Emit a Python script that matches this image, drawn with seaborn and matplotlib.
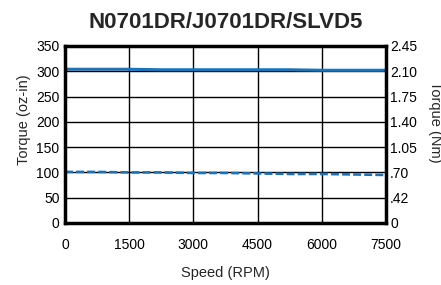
import matplotlib
matplotlib.use("Agg")
import matplotlib.pyplot as plt
import seaborn as sns
import pandas as pd

speed = [0, 750, 1500, 2250, 3000, 3750, 4500, 5250, 6000, 6750, 7500]
peak_torque = [304, 304, 304, 303, 303, 303, 303, 303, 302, 302, 302]
cont_torque = [101, 101, 100, 100, 99, 99, 98, 97, 97, 96, 95]
x_ticks = [0, 1500, 3000, 4500, 6000, 7500]
y_ticks = [0, 50, 100, 150, 200, 250, 300, 350]
right_labels = ["0", ".42", ".70", "1.05", "1.40", "1.75", "2.10", "2.45"]

sns.set_style("white")
plt.rcParams['font.family'] = ['Liberation Sans', 'DejaVu Sans']

df = pd.DataFrame({"speed": speed, "peak": peak_torque, "cont": cont_torque})

W, H = 441, 285
fig = plt.figure(figsize=(4.41, 2.85), dpi=100)
ax = fig.add_axes([65 / W, 1 - 223 / H, (386 - 65) / W, (223 - 46) / H])
color = "#1a72b8"
sns.lineplot(data=df, x="speed", y="peak", ax=ax, color=color, linewidth=2.2)
sns.lineplot(data=df, x="speed", y="cont", ax=ax, color=color, linewidth=1.9,
             linestyle=(0, (3, 1.2)))

ax.set_xlim(0, 7500)
ax.set_ylim(0, 350)
ax.set_xticks(x_ticks)
ax.set_yticks(y_ticks)
ax.grid(True, color="black", linewidth=1.0)
ax.set_axisbelow(True)
for s in ax.spines.values():
    s.set_linewidth(2.5)
    s.set_color("black")
    s.set_visible(True)
ax.tick_params(axis="x", labelsize=10, length=0, pad=11, colors="black")
ax.tick_params(axis="y", labelsize=10, length=0, pad=4, colors="black")
ax.set_xlabel("Speed (RPM)", fontsize=10.5, labelpad=10)
ax.set_ylabel("")
ax.set_title("N0701DR/J0701DR/SLVD5", fontsize=16, fontweight="bold", pad=13)

ax2 = ax.twinx()
ax2.set_ylim(0, 350)
ax2.set_yticks(y_ticks)
ax2.set_yticklabels(right_labels)
ax2.tick_params(axis="y", labelsize=10, length=0, pad=3, colors="black")
for s in ax2.spines.values():
    s.set_visible(False)

fig.text(24 / W, 1 - 120 / H, "Torque (oz-in)", rotation=90, ha="center",
         va="center", fontsize=10.5)
fig.text(435 / W, 1 - 122 / H, "Torque (Nm)", rotation=-90, ha="center",
         va="center", fontsize=10.5)

fig.savefig("out.png", dpi=100)
